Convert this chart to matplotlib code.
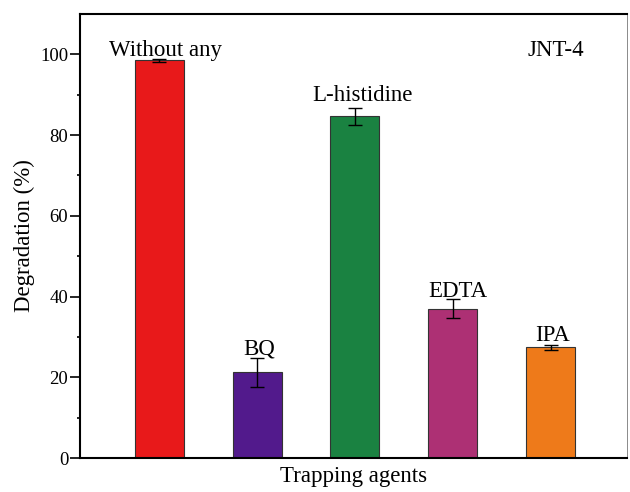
import numpy as np
import matplotlib
matplotlib.use('Agg')
import matplotlib.pyplot as plt
plt.rc('font', family='Liberation Serif', size=14)

agents = ['Without any', 'BQ', 'L-histidine', 'EDTA', 'IPA']
degradation = [98.5, 21.3, 84.7, 37.0, 27.4]
errors = [0.3, 3.6, 2.1, 2.4, 0.6]
colors = ['#E8191A', '#521A8C', '#1A8241', '#AD3074', '#EE7A1A']

fig = plt.figure(figsize=(6.3, 4.92), dpi=100)
ax = fig.add_axes([0.127, 0.069, 0.868, 0.9025])

x = np.arange(1, len(agents) + 1)
ax.bar(x, degradation, width=0.5, color=colors, edgecolor='#333333', linewidth=0.8,
       yerr=errors, capsize=5, error_kw=dict(elinewidth=1, capthick=1, ecolor='black'))

# label nudges (x in data units, y above error bar)
dx = [0.066, 0.025, 0.077, 0.05, 0.02]
dy = [0.7, 0.7, 1.6, 0.6, 1.0]
for xi, yi, ei, name, a, b in zip(x, degradation, errors, agents, dx, dy):
    ax.text(xi + a, yi + ei + b, name, ha='center', va='baseline', fontsize=16.5)

ax.text(5.055, 99.6, 'JNT-4', ha='center', va='baseline', fontsize=16.5)

ax.set_xlim(0.19, 5.78)
ax.set_ylim(0, 110)
ax.set_yticks([0, 20, 40, 60, 80, 100])
ax.set_yticks(np.arange(10, 110, 20), minor=True)
ax.set_xticks([])
ax.tick_params(axis='y', which='major', direction='out', length=7, width=1.2,
               pad=1.5, labelsize=13.5)
ax.tick_params(axis='y', which='minor', direction='out', length=2.5, width=1.2)

for s in ['left', 'bottom', 'top']:
    ax.spines[s].set_linewidth(1.5)
ax.spines['right'].set_linewidth(0.6)
ax.spines['right'].set_color('#777777')

ax.set_xlabel('Trapping agents', fontsize=16.5, labelpad=6)
ax.set_ylabel('Degradation (%)', fontsize=16.5, labelpad=4)

plt.savefig('out.png', dpi=100)
